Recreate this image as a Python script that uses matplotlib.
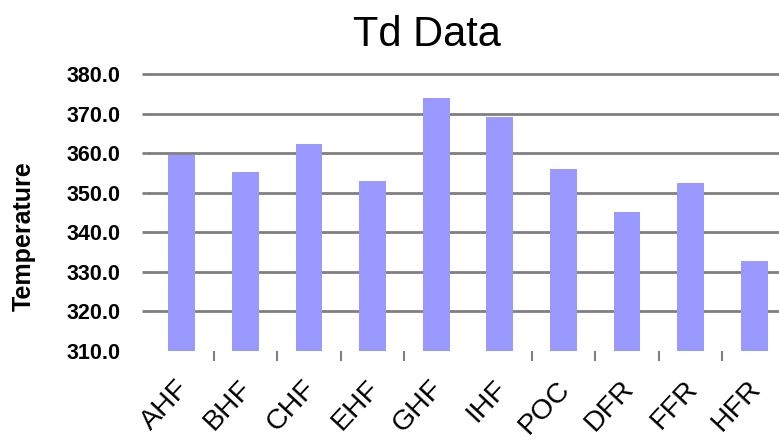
import matplotlib
matplotlib.use("Agg")
import numpy as np
import matplotlib.pyplot as plt
import matplotlib.transforms as mtransforms
from matplotlib.ticker import FixedLocator, NullFormatter

plt.rcParams['font.family'] = ['Liberation Sans', 'DejaVu Sans']

categories = ['AHF', 'BHF', 'CHF', 'EHF', 'GHF', 'IHF', 'POC', 'DFR', 'FFR', 'HFR']
td_values = [359.5, 355.2, 362.3, 352.9, 373.9, 369.1, 356.0, 345.1, 352.4, 332.7]
y_ticks = [310, 320, 330, 340, 350, 360, 370, 380]

W, H = 779, 443
fig = plt.figure(figsize=(W / 100, H / 100), dpi=100)
# plot area runs a little past the right edge of the figure
ax = fig.add_axes([150 / W, 1 - 350.7 / H, (786 - 150) / W, (350.7 - 74) / H])

x = np.arange(len(categories))
ax.bar(x, [v - 310 for v in td_values], bottom=310, width=0.42,
       color='#9999ff', zorder=3)

ax.set_xlim(-0.5, len(categories) - 0.5)
ax.set_ylim(310, 380)

ax.set_yticks(y_ticks)
ax.set_yticklabels(['%.1f' % t for t in y_ticks], fontsize=15.5, fontweight='bold')
ax.tick_params(axis='y', length=0, pad=21)
ax.yaxis.grid(True, color='#808080', linewidth=2, zorder=0)
for i, tk in enumerate(ax.yaxis.get_major_ticks()):
    tk.gridline.set_clip_on(False)
    if i == 0:
        tk.gridline.set_visible(False)
# gridlines stick out a few pixels left of the plot area
ax.hlines(y_ticks[1:], -0.5 - 8 / 63.6, -0.5, color='#808080', linewidth=2,
          clip_on=False, zorder=0)

ax.set_xticks(x)
ax.set_xticklabels(categories, fontsize=20.5, rotation=47, ha='right',
                   rotation_mode='anchor')
ax.tick_params(axis='x', which='major', length=0, pad=18)
shift = mtransforms.ScaledTranslation(-7 / 100, 0, fig.dpi_scale_trans)
for lbl in ax.get_xticklabels():
    lbl.set_transform(lbl.get_transform() + shift)

bounds = [b for b in np.arange(0.5, len(categories) - 1, 1.0) if b != 4.5]
ax.xaxis.set_minor_locator(FixedLocator(bounds))
ax.xaxis.set_minor_formatter(NullFormatter())
ax.tick_params(axis='x', which='minor', length=7.5, width=1.5, color='#808080')

for s in ax.spines.values():
    s.set_visible(False)

fig.text(24 / W, 1 - 236 / H, 'Temperature', fontsize=18, fontweight='bold',
         rotation=90, ha='center', va='center')
fig.text(427 / W, 1 - 46 / H, 'Td Data', fontsize=30, ha='center', va='baseline')

fig.savefig('out.png', dpi=100)
